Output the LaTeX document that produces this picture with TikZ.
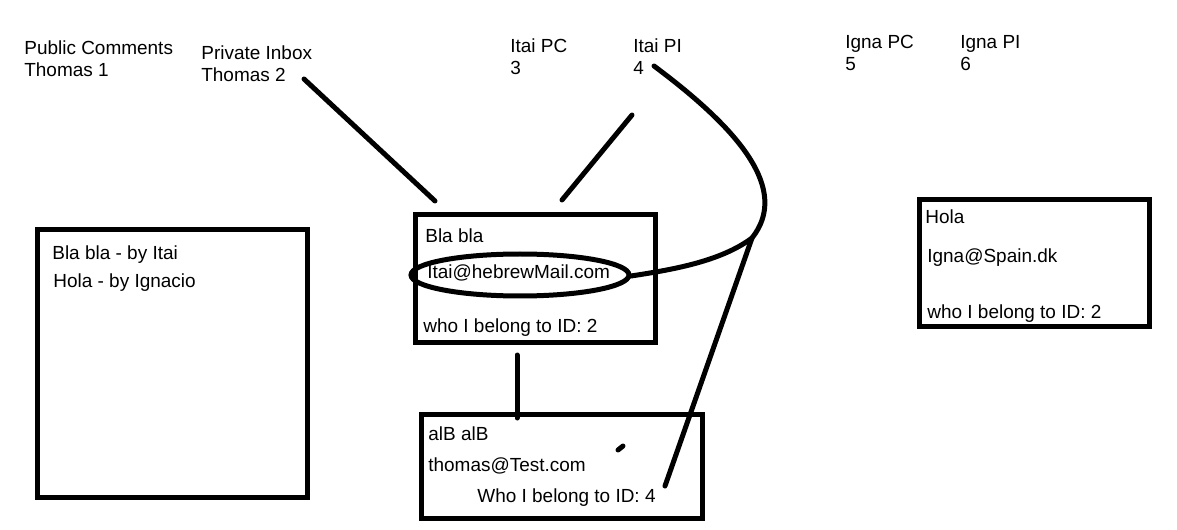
\documentclass[tikz,border=0pt]{standalone}
\usepackage{fontspec}
\setmainfont{Liberation Sans}
\usetikzlibrary{positioning}

\begin{document}
\begin{tikzpicture}[x=0.02cm,y=-0.02cm,font=\fontsize{10.8}{12.5}\selectfont,
  wire/.style={line width=0.1cm,line cap=round},
  panel/.style={draw,line width=0.1cm,inner sep=0,outer sep=0,anchor=north west},
  head/.style={inner sep=0,anchor=north west,align=left},
  lbl/.style={inner sep=0,anchor=base west}]
  \useasboundingbox (0,0) rectangle (1177,530);
  % column headers
  \node[head] (pc1) at (24,40)  {Public Comments\\Thomas 1};
  \node[head] (pi2) at (201,45) {Private Inbox\\Thomas 2};
  \node[head] (pc3) at (510,38) {Itai PC\\3};
  \node[head] (pi4) at (633,38) {Itai PI\\4};
  \node[head] (pc5) at (845,35) {Igna PC\\5};
  \node[head] (pi6) at (960,35) {Igna PI\\6};
  % boxes
  \node[panel,minimum width=5.4cm,minimum height=5.36cm]  (combox) at (37.5,229.5) {};
  \node[panel,minimum width=4.81cm,minimum height=2.55cm] (itaibox) at (415,215) {};
  \node[panel,minimum width=5.62cm,minimum height=2.09cm] (thombox) at (421.5,414.5) {};
  \node[panel,minimum width=4.6cm,minimum height=2.54cm]  (ignabox) at (919.5,199.5) {};
  % box texts
  \node[lbl] (c1) at (52,260) {Bla bla - by Itai};
  \node[lbl] (c2) at (53,288) {Hola - by Ignacio};
  \node[lbl] (i1) at (425,243) {Bla bla};
  \node[lbl] (i2) at (427,279) {Itai@hebrewMail.com};
  \node[lbl] (i3) at (423,333) {who I belong to ID: 2};
  \node[lbl] (t1) at (428,440) {alB alB};
  \node[lbl] (t2) at (428,471) {thomas@Test.com};
  \node[lbl] (t3) at (477,502) {Who I belong to ID: 4};
  \node[lbl] (g1) at (925,224) {Hola};
  \node[lbl] (g2) at (927,263) {Igna@Spain.dk};
  \node[lbl] (g3) at (927,318) {who I belong to ID: 2};
  % line ends
  \coordinate (a0) at (304,79);  \coordinate (a1) at (435,201);
  \coordinate (b0) at (632,115); \coordinate (b1) at (562,200);
  \coordinate (d0) at (517,355); \coordinate (d1) at (517,418);
  \coordinate (e0) at (654,66);  \coordinate (e1) at (752,238);
  \coordinate (e2) at (665,486);
  \coordinate (ring) at (520,275); \coordinate (ringE) at (631,276);
  \coordinate (dot0) at (618,450); \coordinate (dot1) at (623,446);
  % scribbles
  \draw[wire] (a0) -- (a1);
  \draw[wire] (b0) -- (b1);
  \draw[wire] (d0) -- (d1);
  \draw[wire] (ring) ellipse [x radius=109,y radius=21];
  \draw[wire] (e0) .. controls (740,130) and (790,190) .. (e1)
              .. controls (720,262) and (670,270) .. (ringE);
  \draw[wire] (e1) -- (e2);
  \draw[wire] (dot0) -- (dot1);
\end{tikzpicture}
\end{document}
